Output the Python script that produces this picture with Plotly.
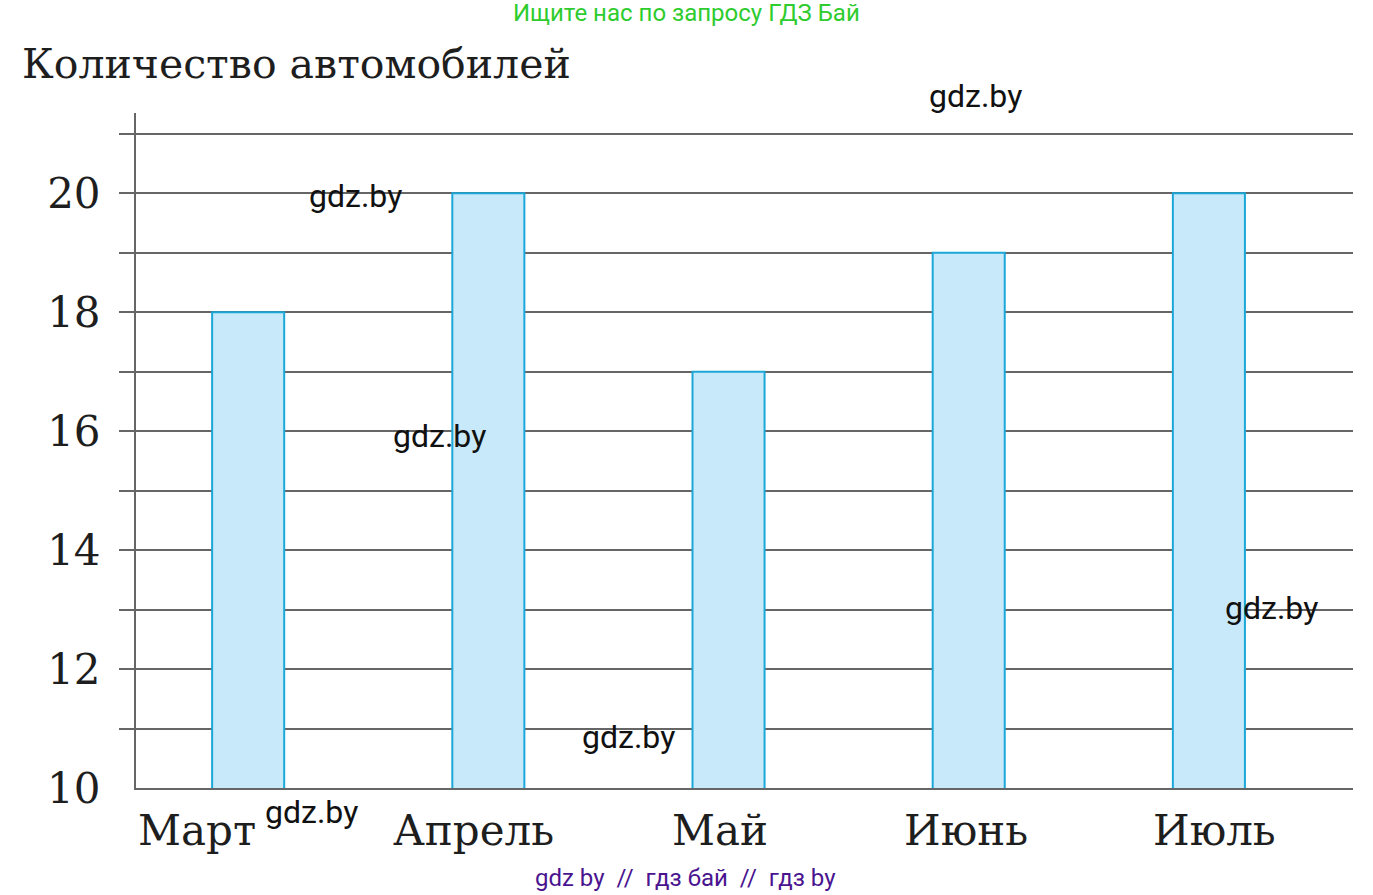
import plotly.graph_objects as go

months = ["Март", "Апрель", "Май", "Июнь", "Июль"]
cars = [18, 20, 17, 19, 20]
y_min = 10
y_ticks = list(range(11, 22))
y_tick_text = [str(v) if v % 2 == 0 else "" for v in y_ticks]

W, H = 1373, 895
L, R, T, B = 136, 20, 113, 107

def px(x):
    return (x - L) / (W - L - R)

def py(y):
    return (H - B - y) / (H - T - B)

fig = go.Figure()
fig.add_trace(go.Bar(
    x=months, y=cars, width=0.3,
    marker=dict(color="#c8e9f9", line=dict(color="#1ba8d8", width=2)),
    hoverinfo="skip",
))

serif = "DejaVu Serif, Century Schoolbook, serif"
fig.update_layout(
    width=W, height=H,
    margin=dict(l=L, r=R, t=T, b=B),
    paper_bgcolor="white", plot_bgcolor="white",
    showlegend=False,
    title=dict(text="Количество автомобилей", x=22 / W, y=1 - 64 / H,
               xanchor="left", yanchor="middle", xref="container", yref="container",
               font=dict(family=serif, size=41, color="#1e1e1e")),
    xaxis=dict(type="category", range=[-0.467, 4.6], showgrid=False,
               showline=True, linecolor="#666", linewidth=2, ticks="",
               showticklabels=False),
    yaxis=dict(range=[y_min, 21.35], tickvals=y_ticks, ticktext=y_tick_text,
               showgrid=True, gridcolor="#666", gridwidth=2, zeroline=False,
               showline=True, linecolor="#666", linewidth=2,
               ticks="outside", ticklen=15, tickwidth=2, tickcolor="#666",
               tickfont=dict(family=serif, size=42, color="#1e1e1e"), ticklabelstandoff=10),
)

# bottom value label (no tick mark at the baseline in the reference)
fig.add_annotation(text=str(y_min), x=0, y=y_min, xref="paper", yref="y", xshift=-34,
                   showarrow=False, xanchor="right", yanchor="middle",
                   font=dict(family=serif, size=42, color="#1e1e1e"))

# month labels (placed as in the reference, slightly off the bar centres)
label_shift = [-51, -15, -9, -3, 6]
for m, dx in zip(months, label_shift):
    fig.add_annotation(text=m, x=m, y=py(830), xref="x", yref="paper", xshift=dx,
                       showarrow=False, xanchor="center", yanchor="middle",
                       font=dict(family=serif, size=42, color="#1e1e1e"))

marks = [(355, 196), (439, 436), (628, 737), (975, 96), (1271, 608), (311, 812)]
for mx, my in marks:
    fig.add_annotation(text="gdz.by", x=px(mx), y=py(my), xref="paper", yref="paper",
                       showarrow=False, xanchor="center", yanchor="middle",
                       font=dict(family="Roboto, sans-serif", size=32, color="#111"))

fig.add_annotation(text="Ищите нас по запросу ГДЗ Бай", x=px(686), y=py(13),
                   xref="paper", yref="paper", showarrow=False,
                   xanchor="center", yanchor="middle",
                   font=dict(family="Roboto, sans-serif", size=24, color="#2ecc2e"))
nb = "\u00a0"
fig.add_annotation(text=f"gdz by{nb*2}//{nb*2}гдз бай{nb*2}//{nb*2}гдз by", x=px(685), y=py(878),
                   xref="paper", yref="paper", showarrow=False,
                   xanchor="center", yanchor="middle",
                   font=dict(family="Roboto, sans-serif", size=24, color="#4a1490"))

fig.write_html("out.html", config={"displayModeBar": False},
               post_script="document.body.style.margin='0';document.body.style.padding='0';")
